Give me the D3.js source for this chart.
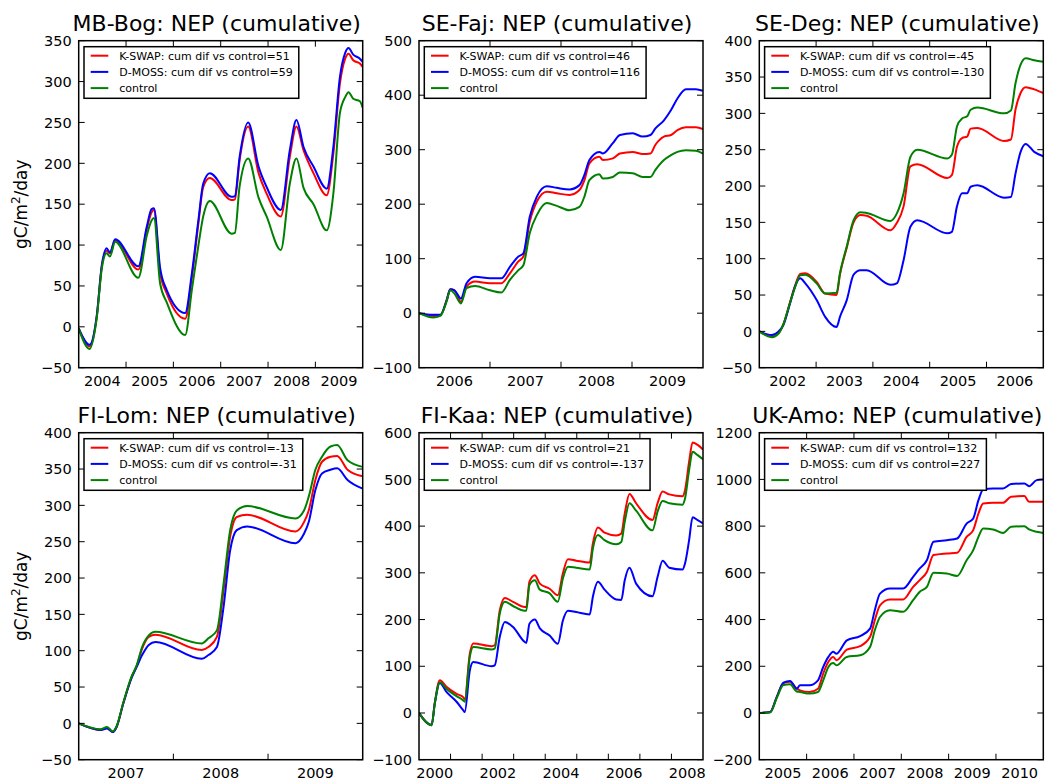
<!DOCTYPE html>
<html>
<head>
<meta charset="utf-8">
<script src="https://cdn.jsdelivr.net/npm/d3@7"></script>
<style>
  body { margin: 0; background: #fff; }
  text { font-family: "DejaVu Sans", sans-serif; fill: #000; }
</style>
</head>
<body>
<svg id="chart" width="1048" height="780"></svg>
<script>
// ---- data ----
const sites = ["MB-Bog", "SE-Faj", "SE-Deg", "FI-Lom", "FI-Kaa", "UK-Amo"]
const kswapDiff = [51, 46, -45, -13, 21, 132]
const dmossDiff = [59, 116, -130, -31, -137, 227]

// x extents (decimal years) and y extents / tick step
const xDomains = [[2004, 2010], [2006, 2010], [2002, 2007], [2007, 2010], [2000, 2009], [2005, 2011]]
const yDomains = [[-50, 350], [-100, 500], [-50, 400], [-50, 400], [-100, 600], [-200, 1200]]
const yStep = [50, 100, 50, 50, 100, 200]
const xLabelStep = [1, 1, 1, 1, 2, 1]

// MB-Bog
const mbBogYears = [2004.0, 2004.23, 2004.38, 2004.49, 2004.59, 2004.66, 2004.77, 2005.26, 2005.44, 2005.54, 2005.59, 2005.72, 2005.86, 2006.25, 2006.39, 2006.53, 2006.63, 2006.77, 2007.23, 2007.30, 2007.4, 2007.58, 2007.8, 2007.97, 2008.27, 2008.46, 2008.6, 2008.75, 2008.96, 2009.24, 2009.38, 2009.52, 2009.63, 2009.7, 2009.8, 2009.94, 2010.0]
const mbBogKswap = [-2, -24, 12, 75, 93, 90, 106, 70, 120, 140, 143, 66, 41, 10, 60, 127, 171, 182, 155, 156, 204, 245, 188, 163, 135, 208, 245, 216, 188, 161, 212, 298, 328, 334, 326, 322, 318]
const mbBogDmoss = [-2, -22, 13, 76, 96, 91, 107, 74, 123, 144, 145, 72, 45, 17, 65, 131, 175, 188, 159, 160, 208, 250, 196, 171, 143, 216, 253, 220, 196, 169, 220, 306, 335, 341, 333, 328, 324]
const mbBogControl = [-2, -27, 10, 72, 90, 86, 104, 60, 112, 130, 133, 53, 30, -10, 45, 100, 135, 154, 114, 115, 172, 206, 158, 135, 94, 175, 206, 170, 150, 118, 163, 262, 281, 287, 279, 276, 268]

// SE-Faj
const seFajYears = [2006.0, 2006.2, 2006.3, 2006.39, 2006.44, 2006.5, 2006.59, 2006.67, 2006.79, 2007.0, 2007.16, 2007.28, 2007.4, 2007.47, 2007.56, 2007.66, 2007.8, 2007.94, 2008.12, 2008.26, 2008.33, 2008.4, 2008.54, 2008.59, 2008.73, 2008.83, 2009.01, 2009.15, 2009.26, 2009.33, 2009.45, 2009.55, 2009.64, 2009.76, 2009.9, 2010.0]
const seFajKswap = [0, -5, -4, 24, 44, 42, 21, 49, 58, 55, 55, 73, 95, 104, 168, 205, 223, 220, 217, 226, 244, 275, 287, 281, 284, 293, 296, 292, 293, 309, 324, 327, 336, 341, 341, 338]
const seFajDmoss = [0, -3, -3, 24, 44, 42, 27, 55, 67, 64, 64, 85, 104, 110, 177, 214, 233, 230, 227, 235, 254, 281, 296, 293, 312, 327, 330, 324, 327, 339, 354, 373, 394, 411, 411, 408]
const seFajControl = [0, -8, -5, 22, 42, 36, 18, 46, 50, 42, 38, 61, 79, 88, 147, 180, 202, 197, 189, 195, 214, 244, 255, 247, 250, 258, 257, 250, 250, 263, 281, 290, 296, 299, 298, 293]

// SE-Deg
const seDegYears = [2002.0, 2002.22, 2002.34, 2002.42, 2002.54, 2002.63, 2002.72, 2002.81, 2003.01, 2003.16, 2003.36, 2003.42, 2003.54, 2003.66, 2003.78, 2003.89, 2004.31, 2004.42, 2004.54, 2004.66, 2004.78, 2005.31, 2005.39, 2005.48, 2005.57, 2005.66, 2005.72, 2005.84, 2006.31, 2006.43, 2006.51, 2006.6, 2006.69, 2006.84, 2007.0]
const seDegKswap = [0, -7, -2, 9, 40, 63, 79, 80, 68, 52, 50, 78, 115, 150, 160, 159, 139, 149, 172, 227, 230, 211, 215, 254, 266, 268, 279, 280, 262, 264, 305, 328, 336, 333, 328]
const seDegDmoss = [0, -5, 0, 8, 38, 62, 73, 66, 43, 20, 6, 20, 43, 78, 84, 84, 64, 66, 98, 144, 153, 135, 137, 172, 190, 190, 199, 201, 184, 185, 217, 247, 258, 247, 241]
const seDegControl = [0, -8, -3, 9, 39, 61, 77, 78, 66, 52, 53, 80, 117, 153, 164, 163, 152, 162, 190, 240, 250, 238, 243, 282, 293, 296, 305, 308, 300, 304, 341, 367, 376, 373, 371]

// FI-Lom
const fiLomYears = [2007.0, 2007.23, 2007.3, 2007.36, 2007.4, 2007.47, 2007.56, 2007.61, 2007.67, 2007.74, 2007.81, 2008.3, 2008.37, 2008.46, 2008.53, 2008.6, 2008.67, 2008.78, 2009.29, 2009.38, 2009.43, 2009.5, 2009.57, 2009.66, 2009.73, 2009.84, 2010.0]
const fiLomKswap = [0, -9, -6, -12, -5, 27, 64, 78, 103, 119, 122, 101, 105, 119, 183, 257, 284, 287, 264, 277, 293, 335, 360, 367, 368, 349, 340]
const fiLomDmoss = [0, -9, -7, -12, -5, 27, 63, 77, 94, 108, 112, 89, 94, 105, 160, 238, 266, 271, 248, 261, 277, 321, 344, 349, 351, 335, 323]
const fiLomControl = [0, -8, -5, -11, -4, 28, 65, 79, 105, 121, 126, 110, 117, 128, 192, 266, 293, 299, 282, 293, 312, 349, 367, 381, 383, 362, 353]

// FI-Kaa
const fiKaaYears = [2000.0, 2000.4, 2000.5, 2000.66, 2000.87, 2001.19, 2001.4, 2001.45, 2001.61, 2001.72, 2002.3, 2002.4, 2002.56, 2002.72, 2002.98, 2003.35, 2003.4, 2003.5, 2003.67, 2003.83, 2004.14, 2004.4, 2004.56, 2004.72, 2004.98, 2005.41, 2005.51, 2005.67, 2005.88, 2006.25, 2006.41, 2006.52, 2006.67, 2006.88, 2007.4, 2007.56, 2007.72, 2007.93, 2008.35, 2008.43, 2008.56, 2008.67, 2008.83, 2009.0]
const fiKaaKswap = [0, -26, 22, 70, 56, 41, 34, 30, 127, 149, 143, 145, 220, 246, 238, 227, 227, 281, 295, 277, 266, 252, 299, 329, 326, 322, 363, 397, 386, 380, 384, 427, 469, 449, 413, 449, 474, 468, 464, 477, 538, 579, 574, 564]
const fiKaaDmoss = [0, -26, 20, 64, 45, 24, 6, 2, 91, 109, 100, 102, 163, 195, 184, 152, 150, 191, 200, 181, 166, 148, 198, 219, 216, 211, 249, 281, 264, 243, 242, 284, 311, 277, 250, 291, 326, 311, 307, 320, 370, 419, 413, 406]
const fiKaaControl = [0, -26, 20, 66, 52, 36, 27, 24, 120, 141, 136, 138, 213, 238, 229, 219, 219, 274, 284, 264, 256, 238, 288, 313, 311, 307, 352, 381, 370, 361, 366, 409, 449, 433, 391, 431, 454, 449, 446, 459, 520, 559, 552, 543]

// UK-Amo
const ukAmoYears = [2005.0, 2005.23, 2005.37, 2005.51, 2005.65, 2005.79, 2005.86, 2006.06, 2006.24, 2006.35, 2006.46, 2006.56, 2006.63, 2006.85, 2007.13, 2007.34, 2007.44, 2007.55, 2007.76, 2008.04, 2008.25, 2008.39, 2008.54, 2008.68, 2008.96, 2009.18, 2009.38, 2009.52, 2009.63, 2009.73, 2009.94, 2010.15, 2010.32, 2010.6, 2010.7, 2010.86, 2011.0]
const ukAmoKswap = [0, 4, 69, 128, 134, 104, 97, 90, 104, 169, 219, 240, 226, 271, 286, 326, 397, 461, 486, 486, 540, 569, 604, 676, 683, 686, 754, 783, 854, 897, 900, 900, 926, 929, 904, 904, 904]
const ukAmoDmoss = [0, 4, 69, 130, 137, 104, 119, 119, 140, 197, 240, 262, 254, 311, 329, 361, 440, 511, 533, 533, 583, 619, 654, 733, 740, 747, 811, 833, 911, 957, 961, 961, 980, 983, 971, 997, 1000]
const ukAmoControl = [0, 2, 65, 120, 123, 92, 90, 83, 90, 140, 197, 214, 204, 240, 247, 283, 354, 411, 440, 433, 483, 519, 540, 600, 597, 587, 654, 697, 754, 790, 786, 771, 797, 800, 786, 776, 771]

const years = [mbBogYears, seFajYears, seDegYears, fiLomYears, fiKaaYears, ukAmoYears]
const kswap = [mbBogKswap, seFajKswap, seDegKswap, fiLomKswap, fiKaaKswap, ukAmoKswap]
const dmoss = [mbBogDmoss, seFajDmoss, seDegDmoss, fiLomDmoss, fiKaaDmoss, ukAmoDmoss]
const control = [mbBogControl, seFajControl, seDegControl, fiLomControl, fiKaaControl, ukAmoControl]

// ---- layout ----
const COL_LEFT = [78.7, 419, 759.3]
const ROW_TOP = [40.7, 432.7]
const PW = 284
const PH = 327
const TICK = 6
const COLORS = { kswap: "#ff0000", dmoss: "#0000ff", control: "#008000" }

const svg = d3.select("#chart")
const fmt = (v) => (v < 0 ? "\u2212" + Math.abs(v) : String(v))

function drawPanel(i) {
  const col = i % 3
  const row = Math.floor(i / 3)
  const g = svg.append("g").attr("transform", `translate(${COL_LEFT[col]},${ROW_TOP[row]})`)

  const x = d3.scaleLinear().domain(xDomains[i]).range([0, PW])
  const y = d3.scaleLinear().domain(yDomains[i]).range([PH, 0])

  // clip so lines stay inside the frame
  const clipId = `clip-${i}`
  g.append("clipPath").attr("id", clipId)
    .append("rect").attr("width", PW).attr("height", PH)

  const series = [
    { key: "kswap", values: kswap[i], label: `K-SWAP: cum dif vs control=${kswapDiff[i]}` },
    { key: "dmoss", values: dmoss[i], label: `D-MOSS: cum dif vs control=${dmossDiff[i]}` },
    { key: "control", values: control[i], label: "control" },
  ]

  const line = d3.line()
    .x((d) => x(d[0]))
    .y((d) => y(d[1]))
    .curve(d3.curveMonotoneX)

  const lines = g.append("g").attr("clip-path", `url(#${clipId})`)
  series.forEach((s) => {
    const pts = years[i].map((yr, k) => [yr, s.values[k]])
    lines.append("path")
      .attr("d", line(pts))
      .attr("fill", "none")
      .attr("stroke", COLORS[s.key])
      .attr("stroke-width", 2)
      .attr("stroke-linejoin", "round")
  })

  // y ticks, both sides, pointing inward
  const [y0, y1] = yDomains[i]
  const yTicks = d3.range(y0, y1 + yStep[i] / 2, yStep[i])
  const axisG = g.append("g").attr("stroke", "#000").attr("stroke-width", 1)
  yTicks.forEach((v) => {
    const yy = y(v)
    axisG.append("line").attr("x1", 0).attr("x2", TICK).attr("y1", yy).attr("y2", yy)
    axisG.append("line").attr("x1", PW - TICK).attr("x2", PW).attr("y1", yy).attr("y2", yy)
    g.append("text")
      .attr("x", -7)
      .attr("y", yy)
      .attr("dy", "0.36em")
      .attr("text-anchor", "end")
      .style("font-size", "14.5px")
      .text(fmt(v))
  })

  // x ticks at year starts, labels at mid-year
  const [x0, x1] = xDomains[i]
  d3.range(x0 + 1, x1).forEach((yr) => {
    const xx = x(yr)
    axisG.append("line").attr("x1", xx).attr("x2", xx).attr("y1", PH).attr("y2", PH - TICK)
    axisG.append("line").attr("x1", xx).attr("x2", xx).attr("y1", 0).attr("y2", TICK)
  })
  d3.range(x0, x1, xLabelStep[i]).forEach((yr) => {
    g.append("text")
      .attr("x", x(yr + 0.5))
      .attr("y", PH + 18.5)
      .attr("text-anchor", "middle")
      .style("font-size", "14.5px")
      .text(yr)
  })

  // frame
  g.append("rect")
    .attr("width", PW).attr("height", PH)
    .attr("fill", "none").attr("stroke", "#000").attr("stroke-width", 1.5)

  // title
  g.append("text")
    .attr("x", PW / 2 - 4)
    .attr("y", -9.5)
    .attr("text-anchor", "middle")
    .style("font-size", "22px")
    .text(`${sites[i]}: NEP (cumulative)`)

  // y label on the first column only
  if (col === 0) {
    const lab = svg.append("text")
      .attr("transform", `translate(26.5,${ROW_TOP[row] + PH / 2}) rotate(-90)`)
      .attr("text-anchor", "middle")
      .style("font-size", "17px")
    lab.append("tspan").text("gC/m")
    lab.append("tspan").attr("dy", -7).style("font-size", "12px").text("2")
    lab.append("tspan").attr("dy", 7).text("/day")
  }

  // legend
  const leg = g.append("g").attr("transform", "translate(5.3,6)")
  const box = leg.append("rect")
    .attr("height", 51.6)
    .attr("fill", "#fff").attr("stroke", "#000").attr("stroke-width", 1.5)
  let maxLen = 0
  series.forEach((s, k) => {
    const cy = 9 + k * 16.2
    leg.append("line")
      .attr("x1", 6.7).attr("x2", 24.3).attr("y1", cy).attr("y2", cy)
      .attr("stroke", COLORS[s.key]).attr("stroke-width", 2)
    const t = leg.append("text")
      .attr("x", 35.3)
      .attr("y", cy)
      .attr("dy", "0.35em")
      .style("font-size", "11px")
      .text(s.label)
    maxLen = Math.max(maxLen, t.node().getComputedTextLength())
  })
  box.attr("width", 35.3 + maxLen + 6)
}

sites.forEach((_, i) => drawPanel(i))
</script>
</body>
</html>
